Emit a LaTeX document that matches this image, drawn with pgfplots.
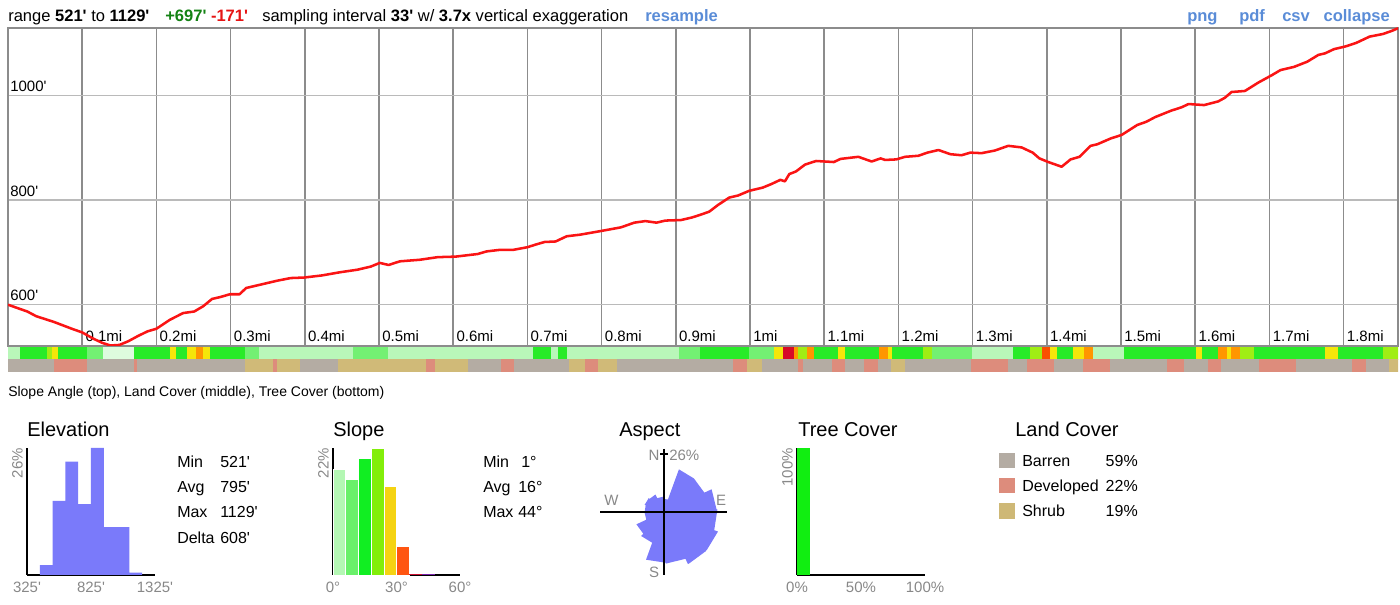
\documentclass[border=0pt]{standalone}
\usepackage{pgfplots}
\pgfplotsset{compat=1.18}
\usepgfplotslibrary{polar}
\usepackage{fontspec}
\setmainfont{Liberation Sans}
\definecolor{elev}{RGB}{122,122,250}
\definecolor{labgray}{RGB}{136,136,136}
\definecolor{hblue}{RGB}{90,140,215}
\definecolor{hgreen}{RGB}{20,130,20}
\definecolor{hred}{RGB}{230,20,20}
\definecolor{prof}{RGB}{250,20,20}
\definecolor{barren}{RGB}{180,172,163}
\definecolor{developed}{RGB}{221,140,124}
\definecolor{shrub}{RGB}{206,184,118}
\definecolor{sA}{RGB}{180,247,180}
\definecolor{sB}{RGB}{106,240,106}
\definecolor{sC}{RGB}{17,238,34}
\definecolor{sD}{RGB}{130,238,10}
\definecolor{sE}{RGB}{245,211,18}
\definecolor{sF}{RGB}{255,85,17}
\definecolor{sG}{RGB}{204,17,51}
\definecolor{sH}{RGB}{120,34,170}
\definecolor{treeg}{RGB}{17,238,17}
\newcommand{\q}{\textquotesingle}
\newcommand{\fh}{\fontsize{12}{14}\selectfont}
\newcommand{\fH}{\fontsize{12.4}{14}\selectfont}
\newcommand{\ftk}{\fontsize{11.25}{13}\selectfont}
\newcommand{\fc}{\fontsize{10.5}{12}\selectfont}
\newcommand{\fT}{\fontsize{15}{18}\selectfont}
\pgfplotsset{
  histo/.style={
    scale only axis, anchor=south west,
    ymin=0,
    axis x line=bottom, axis y line=left,
    axis line style={-, line width=1.1pt, black},
    major tick length=0pt,
    tick label style={font=\ftk, text=labgray},
    xticklabel style={anchor=north, inner sep=0pt, yshift=-5pt},
    yticklabel style={rotate=90, anchor=south east, inner sep=0pt, yshift=3pt},
    clip=false,
  }
}
\begin{document}
\begin{tikzpicture}
\path[use as bounding box] (0,0) rectangle (1050pt,-453.75pt);

% ---------------- main profile ----------------
\begin{axis}[
  at={(6pt,-259.5pt)}, anchor=south west,
  scale only axis, width=1042.5pt, height=238.5pt,
  xmin=0, xmax=1.8733, ymin=521, ymax=1129.5,
  xtick={0.1,0.2,0.3,0.4,0.5,0.6,0.7,0.8,0.9,1.0,1.1,1.2,1.3,1.4,1.5,1.6,1.7,1.8},
  xticklabels={0.1mi,0.2mi,0.3mi,0.4mi,0.5mi,0.6mi,0.7mi,0.8mi,0.9mi,1mi,1.1mi,1.2mi,1.3mi,1.4mi,1.5mi,1.6mi,1.7mi,1.8mi},
  ytick={600,800,1000},
  yticklabels={600\q,800\q,1000\q},
  major tick length=0pt,
  grid=major,
  x grid style={draw=black!45, line width=1.1pt},
  y grid style={draw=black!27, line width=1.1pt},
  axis line style={draw=black!45, line width=1.1pt},
  xticklabel style={font=\ftk, anchor=base west, inner sep=0pt, xshift=2.3pt, yshift=3.4pt},
  yticklabel style={font=\ftk, anchor=base west, inner sep=0pt, xshift=1.5pt, yshift=2.8pt},
]
\addplot[prof, line width=1.9pt, line join=round] table {
x y
0 600
0.026 587
0.038 578
0.062 567
0.086 554
0.100 547
0.115 535
0.127 527
0.138 522
0.150 523
0.162 530
0.175 540
0.188 549
0.200 554
0.218 571
0.236 584
0.251 587
0.263 597
0.275 611
0.287 615
0.299 620
0.312 620
0.321 632
0.339 638
0.363 646
0.381 651
0.399 652
0.423 656
0.447 662
0.471 667
0.489 673
0.501 680
0.513 676
0.528 683
0.555 686
0.579 691
0.603 692
0.633 697
0.645 702
0.663 705
0.681 705
0.700 710
0.711 715
0.723 720
0.738 721
0.753 731
0.771 734
0.799 741
0.826 748
0.844 757
0.859 760
0.874 757
0.886 761
0.907 762
0.922 767
0.933 772
0.945 778
0.957 791
0.972 805
0.984 809
0.999 818
1.017 824
1.029 831
1.041 839
1.047 836
1.053 850
1.062 855
1.074 868
1.089 875
1.113 873
1.122 879
1.146 883
1.164 874
1.176 880
1.182 877
1.197 878
1.209 883
1.227 885
1.239 891
1.254 896
1.270 888
1.285 886
1.297 891
1.312 890
1.330 895
1.348 904
1.366 901
1.381 891
1.390 880
1.402 873
1.414 867
1.420 864
1.432 878
1.444 883
1.459 904
1.468 907
1.486 918
1.501 925
1.522 944
1.534 950
1.546 959
1.567 971
1.582 978
1.591 984
1.612 982
1.631 989
1.640 996
1.649 1007
1.667 1009
1.685 1025
1.703 1039
1.715 1049
1.733 1055
1.751 1065
1.766 1078
1.775 1081
1.787 1089
1.802 1094
1.817 1101
1.835 1113
1.853 1118
1.865 1124
1.8733 1129
};
\end{axis}

% ---------------- strips ----------------
\begin{axis}[
  at={(6pt,-279pt)}, anchor=south west,
  scale only axis, width=1042.5pt, height=18.75pt,
  xmin=0, xmax=1.8733, ymin=0, ymax=2,
  hide axis,
  colormap={strip}{rgb255=(222,252,222) rgb255=(185,247,185) rgb255=(115,240,115) rgb255=(40,235,40) rgb255=(160,238,20) rgb255=(245,230,10) rgb255=(255,150,0) rgb255=(250,80,0) rgb255=(215,10,40) rgb255=(180,172,163) rgb255=(221,140,124) rgb255=(208,186,120)},
  colormap access=direct,
]
\addplot[surf, shader=flat corner, mesh/rows=2, point meta=explicit] table[meta=c] {
x y c
0 1 1
0.0162 1 3
0.0526 1 4
0.0593 1 5
0.0674 1 3
0.1065 1 2
0.1280 1 0
0.1698 1 3
0.2183 1 5
0.2264 1 3
0.2412 1 5
0.2534 1 6
0.2628 1 5
0.2722 1 3
0.3194 1 2
0.3383 1 1
0.4650 1 2
0.5121 1 1
0.7075 1 3
0.7318 1 1
0.7412 1 3
0.7534 1 1
0.9043 1 2
0.9326 1 3
0.9987 1 2
1.0323 1 5
1.0445 1 8
1.0593 1 6
1.0647 1 4
1.0768 1 6
1.0863 1 3
1.1186 1 5
1.1280 1 3
1.1739 1 6
1.1860 1 5
1.1914 1 3
1.2332 1 4
1.2453 1 2
1.2992 1 1
1.3544 1 3
1.3774 1 4
1.3935 1 7
1.4043 1 5
1.4137 1 3
1.4353 1 5
1.4501 1 6
1.4623 1 1
1.5040 1 3
1.6011 1 5
1.6092 1 3
1.6307 1 6
1.6429 1 5
1.6482 1 6
1.6604 1 4
1.6792 1 3
1.7749 1 5
1.7925 1 3
1.8531 1 4
1.8733 1 4
0 2 1
0.0162 2 3
0.0526 2 4
0.0593 2 5
0.0674 2 3
0.1065 2 2
0.1280 2 0
0.1698 2 3
0.2183 2 5
0.2264 2 3
0.2412 2 5
0.2534 2 6
0.2628 2 5
0.2722 2 3
0.3194 2 2
0.3383 2 1
0.4650 2 2
0.5121 2 1
0.7075 2 3
0.7318 2 1
0.7412 2 3
0.7534 2 1
0.9043 2 2
0.9326 2 3
0.9987 2 2
1.0323 2 5
1.0445 2 8
1.0593 2 6
1.0647 2 4
1.0768 2 6
1.0863 2 3
1.1186 2 5
1.1280 2 3
1.1739 2 6
1.1860 2 5
1.1914 2 3
1.2332 2 4
1.2453 2 2
1.2992 2 1
1.3544 2 3
1.3774 2 4
1.3935 2 7
1.4043 2 5
1.4137 2 3
1.4353 2 5
1.4501 2 6
1.4623 2 1
1.5040 2 3
1.6011 2 5
1.6092 2 3
1.6307 2 6
1.6429 2 5
1.6482 2 6
1.6604 2 4
1.6792 2 3
1.7749 2 5
1.7925 2 3
1.8531 2 4
1.8733 2 4
};
\addplot[surf, shader=flat corner, mesh/rows=2, point meta=explicit] table[meta=c] {
x y c
0 0 9
0.0620 0 10
0.1065 0 9
0.1698 0 10
0.1739 0 9
0.3194 0 11
0.3571 0 10
0.3625 0 11
0.3935 0 9
0.4447 0 11
0.5633 0 10
0.5755 0 11
0.6199 0 9
0.6644 0 10
0.6819 0 9
0.7561 0 11
0.7776 0 10
0.7951 0 11
0.8208 0 9
0.9771 0 10
0.9960 0 11
1.0162 0 9
1.0647 0 10
1.0714 0 9
1.1105 0 10
1.1280 0 9
1.1536 0 10
1.1725 0 9
1.1900 0 11
1.2089 0 9
1.2978 0 10
1.3477 0 9
1.3733 0 10
1.4097 0 9
1.4488 0 10
1.4852 0 9
1.5620 0 10
1.5849 0 9
1.6173 0 10
1.6348 0 9
1.6860 0 10
1.7358 0 9
1.8113 0 10
1.8302 0 9
1.8612 0 11
1.8733 0 11
0 1 9
0.0620 1 10
0.1065 1 9
0.1698 1 10
0.1739 1 9
0.3194 1 11
0.3571 1 10
0.3625 1 11
0.3935 1 9
0.4447 1 11
0.5633 1 10
0.5755 1 11
0.6199 1 9
0.6644 1 10
0.6819 1 9
0.7561 1 11
0.7776 1 10
0.7951 1 11
0.8208 1 9
0.9771 1 10
0.9960 1 11
1.0162 1 9
1.0647 1 10
1.0714 1 9
1.1105 1 10
1.1280 1 9
1.1536 1 10
1.1725 1 9
1.1900 1 11
1.2089 1 9
1.2978 1 10
1.3477 1 9
1.3733 1 10
1.4097 1 9
1.4488 1 10
1.4852 1 9
1.5620 1 10
1.5849 1 9
1.6173 1 10
1.6348 1 9
1.6860 1 10
1.7358 1 9
1.8113 1 10
1.8302 1 9
1.8612 1 11
1.8733 1 11
};
\end{axis}

% ---------------- elevation histogram ----------------
\begin{axis}[histo,
  at={(20.25pt,-431.25pt)}, width=96pt, height=95.25pt,
  xmin=325, xmax=1325, ymax=26,
  xtick={325,825,1325}, xticklabels={325\q,825\q,1325\q},
  ytick={26}, yticklabels={26\%},
]
\addplot[ybar, bar width=100, bar shift=0pt, fill=elev, draw=none] coordinates {
(475,2.0) (575,15.2) (675,23.2) (775,14.5) (875,26.0) (975,9.8) (1075,9.8) (1175,0.5)};
\end{axis}

% ---------------- slope histogram ----------------
\begin{axis}[histo,
  at={(249.75pt,-431.25pt)}, width=95.25pt, height=95.25pt,
  xmin=0, xmax=60, ymax=22,
  xtick={0,30,60}, xticklabels={0°,30°,60°},
  ytick={22}, yticklabels={22\%},
]
\addplot[ybar, bar width=6, bar shift=0pt, fill=sA, draw=white, line width=0.4pt] coordinates {(3,18.3)};
\addplot[ybar, bar width=6, bar shift=0pt, fill=sB, draw=white, line width=0.4pt] coordinates {(9,16.6)};
\addplot[ybar, bar width=6, bar shift=0pt, fill=sC, draw=white, line width=0.4pt] coordinates {(15,20.3)};
\addplot[ybar, bar width=6, bar shift=0pt, fill=sD, draw=white, line width=0.4pt] coordinates {(21,22.0)};
\addplot[ybar, bar width=6, bar shift=0pt, fill=sE, draw=white, line width=0.4pt] coordinates {(27,15.4)};
\addplot[ybar, bar width=6, bar shift=0pt, fill=sF, draw=white, line width=0.4pt] coordinates {(33,4.9)};
\addplot[ybar, bar width=6, bar shift=0pt, fill=sG, draw=none] coordinates {(39,0.25)};
\addplot[ybar, bar width=6, bar shift=0pt, fill=sH, draw=none] coordinates {(45,0.25)};
\end{axis}

% ---------------- tree cover histogram ----------------
\begin{axis}[histo,
  at={(597.75pt,-431.25pt)}, width=96pt, height=95.25pt,
  xmin=0, xmax=100, ymax=100,
  xtick={0,50,100}, xticklabels={0\%,50\%,100\%},
  ytick={100}, yticklabels={100\%},
]
\addplot[ybar, bar width=10, bar shift=0pt, fill=treeg, draw=none] coordinates {(5,100)};
\end{axis}

% ---------------- aspect rose ----------------
\begin{polaraxis}[
  at={(497.625pt,-383.775pt)}, anchor=center,
  scale only axis, width=87pt, height=87pt,
  hide axis, ymin=0, ymax=26,
]
\addplot[fill=elev, draw=none] coordinates {
(92.5,5.8) (70,5.8)
(70,20.2) (47.5,20.2) (25,20.2)
(25,23.8) (2.5,23.8)
(362.5,24.2) (340,24.2)
(340,26.0) (317.5,26.0) (295,26.0)
(295,23.3) (272.5,23.3)
(272.5,22.9) (250,22.9)
(250,14.8) (227.5,14.8)
(227.5,13.4) (205,13.4)
(205,8.5) (182.5,8.5) (160,8.5)
(160,9.0) (137.5,9.0)
(137.5,8.5) (115,8.5)
(115,6.7) (92.5,6.7)
};
\end{polaraxis}

% ---------------- texts and decorations ----------------
\begin{scope}[x=0.75pt, y=-0.75pt, every node/.style={inner sep=0pt}]
% header
\node[anchor=base west] at (8,22) {\fH range \textbf{521\q} to \textbf{1129\q}};
\node[anchor=base west] at (165,22) {\fH\bfseries\textcolor{hgreen}{+697\q} \textcolor{hred}{-171\q}};
\node[anchor=base west] at (262,22) {\fH sampling interval \textbf{33\q} w/ \textbf{3.7x} vertical exaggeration};
\node[anchor=base west, text=hblue] at (645,22) {\fH\bfseries resample};
\node[anchor=base west, text=hblue] at (1187,22) {\fH\bfseries png};
\node[anchor=base west, text=hblue] at (1239,22) {\fH\bfseries pdf};
\node[anchor=base west, text=hblue] at (1282,22) {\fH\bfseries csv};
\node[anchor=base east, text=hblue] at (1390,22) {\fH\bfseries collapse};
% caption
\node[anchor=base west] at (8,397) {\fc Slope Angle (top), Land Cover (middle), Tree Cover (bottom)};
% titles
\node[anchor=base west] at (27,437) {\fT Elevation};
\node[anchor=base west] at (333,437) {\fT Slope};
\node[anchor=base west] at (619,437) {\fT Aspect};
\node[anchor=base west] at (798,437) {\fT Tree Cover};
\node[anchor=base west] at (1015,437) {\fT Land Cover};
% elevation stats
\node[anchor=base west] at (177,468) {\fh Min};
\node[anchor=base west] at (177,493) {\fh Avg};
\node[anchor=base west] at (177,518) {\fh Max};
\node[anchor=base west] at (177,544) {\fh Delta};
\node[anchor=base west] at (220,468) {\fh 521\q};
\node[anchor=base west] at (220,493) {\fh 795\q};
\node[anchor=base west] at (220,518) {\fh 1129\q};
\node[anchor=base west] at (220,544) {\fh 608\q};
% slope stats
\node[anchor=base west] at (483,468) {\fh Min};
\node[anchor=base west] at (483,493) {\fh Avg};
\node[anchor=base west] at (483,518) {\fh Max};
\node[anchor=base west] at (521,468) {\fh 1°};
\node[anchor=base west] at (518,493) {\fh 16°};
\node[anchor=base west] at (518,518) {\fh 44°};
% aspect cross and labels
\draw[black, line width=1.1pt] (600,512) -- (727,512);
\draw[black, line width=1.1pt] (664,449) -- (664,575);
\draw[black, line width=0.8pt] (660,454) -- (668,454);
\node[anchor=base, text=labgray] at (654,461) {\ftk N};
\node[anchor=base west, text=labgray] at (669,461) {\ftk 26\%};
\node[anchor=base west, text=labgray] at (604,506) {\ftk W};
\node[anchor=base, text=labgray] at (721,506) {\ftk E};
\node[anchor=base, text=labgray] at (654,578) {\ftk S};
% land cover legend
\fill[barren] (999,453) rectangle (1015,468);
\fill[developed] (999,478) rectangle (1015,493);
\fill[shrub] (999,503) rectangle (1015,519);
\node[anchor=base west] at (1022,467) {\fh Barren};
\node[anchor=base west] at (1022,492) {\fh Developed};
\node[anchor=base west] at (1022,517) {\fh Shrub};
\node[anchor=base east] at (1138,467) {\fh 59\%};
\node[anchor=base east] at (1138,492) {\fh 22\%};
\node[anchor=base east] at (1138,517) {\fh 19\%};
\end{scope}
\end{tikzpicture}
\end{document}
